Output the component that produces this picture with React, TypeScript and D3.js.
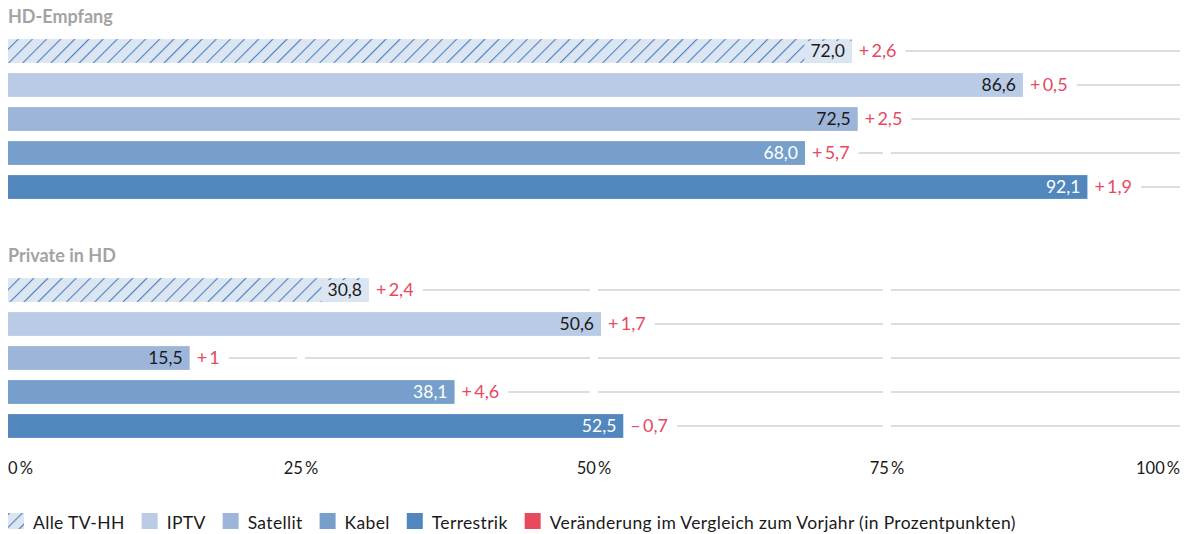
import React, { useEffect, useRef } from "react";
import * as d3 from "d3";

const categories = ["Alle TV-HH", "IPTV", "Satellit", "Kabel", "Terrestrik"];
const groupTitles = ["HD-Empfang", "Private in HD"];
const hdEmpfangValues = [72.0, 86.6, 72.5, 68.0, 92.1];
const hdEmpfangChanges = [2.6, 0.5, 2.5, 5.7, 1.9];
const privateValues = [30.8, 50.6, 15.5, 38.1, 52.5];
const privateChanges = [2.4, 1.7, 1, 4.6, -0.7];
const tickValues = [0, 25, 50, 75, 100];
const tickLabels = ["0\u2009%", "25\u2009%", "50\u2009%", "75\u2009%", "100\u2009%"];
const changeLegend = "Veränderung im Vergleich zum Vorjahr (in Prozentpunkten)";

const colors = ["#dce5f2", "#b9cbe5", "#9cb5d9", "#779fcb", "#5187bd"];
const labelColors = ["#1a1a1a", "#1a1a1a", "#1a1a1a", "#ffffff", "#ffffff"];
const RED = "#e8495f";
const FONT = "Lato, 'Open Sans', sans-serif";

const fmtChange = (v: number) => {
  const abs = Math.abs(v);
  const s = Number.isInteger(abs) ? String(abs) : abs.toFixed(1).replace(".", ",");
  return (v < 0 ? "\u2013\u2009" : "+\u2009") + s;
};

export default function App() {
  const ref = useRef<SVGSVGElement | null>(null);

  useEffect(() => {
    document.body.style.margin = "0";
    const svg = d3.select(ref.current!);
    svg.selectAll("*").remove();

    const x = d3.scaleLinear().domain([0, 100]).range([8, 1180]);

    const defs = svg.append("defs");
    const pat = defs
      .append("pattern")
      .attr("id", "hatch")
      .attr("patternUnits", "userSpaceOnUse")
      .attr("width", 10)
      .attr("height", 10)
      .attr("patternTransform", "rotate(45)");
    pat.append("rect").attr("width", 10).attr("height", 10).attr("fill", colors[0]);
    pat.append("line").attr("x1", 0).attr("y1", 0).attr("x2", 0).attr("y2", 10)
      .attr("stroke", "#4a80c0").attr("stroke-width", 2.2);

    const groups = [
      { title: groupTitles[0], values: hdEmpfangValues, changes: hdEmpfangChanges, titleY: 23, range: [34, 204] },
      { title: groupTitles[1], values: privateValues, changes: privateChanges, titleY: 262, range: [273, 443] },
    ];

    groups.forEach((g) => {
      const y = d3.scaleBand<string>().domain(categories).range(g.range as [number, number]).paddingInner(0.3).paddingOuter(0.15);
      const gg = svg.append("g");
      gg.append("text").attr("x", 8).attr("y", g.titleY).text(g.title)
        .attr("font-family", FONT).attr("font-weight", 700).attr("font-size", 18).attr("fill", "#a3a3a3");

      categories.forEach((c, i) => {
        const v = g.values[i];
        const ch = g.changes[i];
        const by = y(c)!;
        const bh = y.bandwidth();
        const cy = by + bh / 2;
        const xEnd = x(v);

        const chText = gg.append("text").attr("x", xEnd + 7).attr("y", cy).attr("dy", "0.36em")
          .text(fmtChange(ch)).attr("font-family", FONT).attr("font-size", 18).attr("fill", RED);
        const chW = (chText.node() as SVGTextElement).getComputedTextLength();
        const lineStart = xEnd + 7 + chW + 9;
        const gapTicks = tickValues.slice(1, -1).map((t) => x(t)).filter((t) => t > lineStart);
        let s = lineStart;
        const segs: [number, number][] = [];
        gapTicks.forEach((t) => {
          if (t - 4 > s) segs.push([s, t - 4]);
          s = Math.max(s, t + 4);
        });
        segs.push([s, x(100)]);
        segs.forEach(([a, b]) => {
          if (b > a) gg.insert("line", ":first-child").attr("x1", a).attr("x2", b).attr("y1", cy).attr("y2", cy)
            .attr("stroke", "#d2d2d2").attr("stroke-width", 1.6);
        });

        gg.append("rect").attr("x", x(0)).attr("y", by).attr("width", xEnd - x(0)).attr("height", bh)
          .attr("fill", i === 0 ? "url(#hatch)" : colors[i]);

        const label = gg.append("text").attr("x", xEnd - 7).attr("y", cy).attr("dy", "0.36em")
          .attr("text-anchor", "end").text(v.toFixed(1).replace(".", ","))
          .attr("font-family", FONT).attr("font-size", 17.5).attr("fill", labelColors[i]);
        if (i === 0) {
          const lw = (label.node() as SVGTextElement).getComputedTextLength();
          gg.insert("rect", () => label.node() as any)
            .attr("x", xEnd - 7 - lw - 6).attr("y", by + 2).attr("width", lw + 13).attr("height", bh - 2)
            .attr("fill", colors[0]);
        }
      });
    });

    const ax = svg.append("g");
    tickValues.forEach((t, i) => {
      ax.append("text").attr("x", x(t)).attr("y", 474)
        .attr("text-anchor", i === 0 ? "start" : i === tickValues.length - 1 ? "end" : "middle")
        .text(tickLabels[i]).attr("font-family", FONT).attr("font-size", 16.5).attr("fill", "#1a1a1a");
    });

    const lg = svg.append("g");
    const pat2 = defs.append("pattern").attr("id", "hatchLegend").attr("patternUnits", "userSpaceOnUse")
      .attr("width", 9).attr("height", 9).attr("patternTransform", "rotate(45)");
    pat2.append("rect").attr("width", 9).attr("height", 9).attr("fill", colors[0]);
    pat2.append("line").attr("x1", 0).attr("y1", 0).attr("x2", 0).attr("y2", 9)
      .attr("stroke", "#4a80c0").attr("stroke-width", 2.2);
    const legendItems = [
      ...categories.map((c, i) => ({ label: c, fill: i === 0 ? "url(#hatchLegend)" : colors[i] })),
      { label: changeLegend, fill: RED },
    ];

    let lx = 8;
    legendItems.forEach((it) => {
      lg.append("rect").attr("x", lx).attr("y", 513).attr("width", 16).attr("height", 16).attr("fill", it.fill);
      const t = lg.append("text").attr("x", lx + 25).attr("y", 529).text(it.label)
        .attr("font-family", FONT).attr("font-size", 17.5).attr("letter-spacing", 0.35).attr("fill", "#1a1a1a");
      const w = (t.node() as SVGTextElement).getComputedTextLength();
      lx = lx + 25 + w + 17;
    });
  }, []);

  return <svg ref={ref} width={1189} height={534} style={{ display: "block" }} />;
}
